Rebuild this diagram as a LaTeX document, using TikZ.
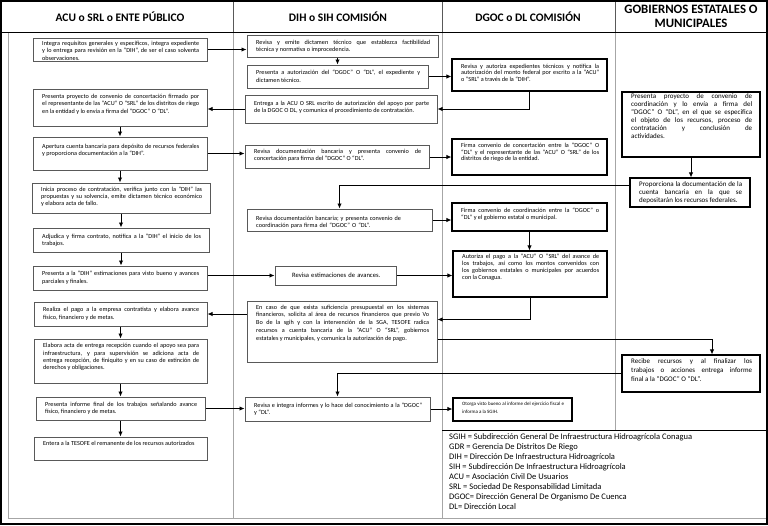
\documentclass[tikz,border=0pt]{standalone}
\usepackage{fontspec}
\setmainfont{Carlito}
\usetikzlibrary{arrows.meta}
\definecolor{boxgray}{HTML}{595959}
\definecolor{gridgray}{HTML}{A6A6A6}
\newcommand\bx[8][]{%
  \pgfmathsetmacro\bxw{#5-#3}%
  \pgfmathsetmacro\bxh{#6-#4}%
  \pgfmathsetmacro\bxt{#5-#3-17}%
  \node[curbox, minimum width=\bxw pt, minimum height=\bxh pt] (#2) at ({(#3+#5)/2},{(#4+#6)/2}) {};%
  \node[txt, text width=\bxt pt, anchor=north west, #1] (#2t) at ({#3+9},{#4+#7}) {\rule{0pt}{5pt}#8};%
}
\begin{document}
\begin{tikzpicture}[x=1pt,y=-1pt,
  box/.style={draw=boxgray, line width=1pt, fill=white, inner sep=0pt, rectangle},
  bbox/.style={draw=black, line width=1.1pt, fill=white, inner sep=0pt, rectangle},
  curbox/.style={box},
  txt/.style={inner sep=0pt, align=justify, font=\fontsize{6.2}{7.2}\selectfont,
    execute at begin node={\tolerance=10000\hbadness=10000\hyphenpenalty=10000}},
  arr/.style={draw=black, line width=0.9pt, -{Latex[length=5pt,width=4.5pt]}},
  hdr/.style={font=\fontsize{11.5}{14}\selectfont\bfseries, inner sep=0pt, align=center},
  leg/.style={font=\fontsize{8.5}{10.1}\selectfont, inner sep=0pt, align=left},
  gridln/.style={draw=gridgray, line width=0.9pt},
  hdrln/.style={draw=boxgray, line width=0.9pt}
]
\useasboundingbox (0,0) rectangle (768,525);
\fill[white] (0,0) rectangle (768,525);
% table grid
\draw[gridln] (8,32) -- (8,518) -- (767,518);
\draw[gridln] (233,32) -- (233,518);
\draw[gridln] (442,32) -- (442,518);
\draw[gridln] (615,32) -- (615,430);
\draw[hdrln] (233,1) -- (233,32);
\draw[hdrln] (442,1) -- (442,32);
\draw[hdrln] (615,1) -- (615,32);
\draw[black, line width=1pt] (1,32) -- (767,32);
\draw[black, line width=0.8pt] (442,430) -- (767,430);
\draw[black, line width=2pt] (1,1) rectangle (767,524);
% headers
\node[hdr] (h1) at (120,17) {ACU o SRL o ENTE PÚBLICO};
\node[hdr] (h2) at (338,17) {DIH o SIH COMISIÓN};
\node[hdr] (h3) at (528,17) {DGOC o DL COMISIÓN};
\node[hdr, font=\fontsize{12.8}{14}\selectfont\bfseries] (h4) at (691,16) {GOBIERNOS ESTATALES O\\MUNICIPALES};
% column 1
\bx{b1}{33}{38}{207}{61}{2.5}{Integra requisitos generales y específicos, integra expediente \linebreak y lo entrega para revisión en la “DIH”, de ser el caso solventa \linebreak observaciones.}
\bx{b2}{33}{89}{207}{126}{4.5}{Presenta proyecto de convenio de concertación firmado por \linebreak el representante de las “ACU” O “SRL” de los distritos de riego \linebreak en la entidad y lo envía a firma del “DGOC” O “DL”.}
\bx{b3}{33}{137}{207}{170}{6}{Apertura cuenta bancaria para depósito de recursos federales \linebreak y proporciona documentación a la “DIH”.}
\bx{b4}{32}{183}{210}{213}{3}{Inicia proceso de contratación, verifica junto con la “DIH” las \linebreak propuestas y su solvencia, emite dictamen técnico económico \linebreak y elabora acta de fallo.}
\bx{b5}{33}{228}{209}{252}{5}{Adjudica y firma contrato, notifica a la “DIH” el inicio de los \linebreak trabajos.}
\bx{b6}{33}{266}{207}{290}{4.6}{Presenta a la “DIH” estimaciones para visto bueno y avances \linebreak parciales y finales.}
\bx{b7}{34}{302}{207}{326}{4.6}{Realiza el pago a la empresa contratista y elabora avance \linebreak físico, financiero y de metas.}
\bx{b8}{34}{339}{207}{383}{3.7}{Elabora acta de entrega recepción cuando el apoyo sea para \linebreak infraestructura, y para supervisión se adiciona acta de \linebreak entrega recepción, de finiquito y en su caso de extinción de \linebreak derechos y obligaciones.}
\bx{b9}{36}{397}{205}{420}{4}{Presenta informe final de los trabajos señalando avance \linebreak físico, financiero y de metas.}
\bx{b10}{34}{437}{207}{460}{3}{Entera a la TESOFE el remanente de los recursos autorizados}
% column 2
\bx{c2a}{247}{35}{438}{57}{4.5}{Revisa y emite dictamen técnico que establezca factibilidad \linebreak técnica y normativa o improcedencia.}
\bx{c2b}{247}{65}{428}{88}{4.6}{Presenta a autorización del “DGOC” O “DL”, el expediente y \linebreak dictamen técnico.}
\bx{c2c}{245}{95}{437}{123}{4.9}{Entrega a la ACU O SRL escrito de autorización del apoyo por parte \linebreak de la DGOC O DL, y comunica el procedimiento de contratación.}
\bx{c2d}{245}{145}{429}{168}{3}{Revisa documentación bancaria y presenta convenio de \linebreak concertación para firma del “DGOC” O “DL”.}
\bx[align=left]{c2e}{247}{209}{432}{231}{5.9}{Revisa documentación bancaria; y presenta convenio de \linebreak coordinación para firma del “DGOC” O “DL”.}
\bx[align=center, font=\fontsize{6.6}{7.5}\selectfont]{c2f}{275}{266}{396}{285}{6}{Revisa estimaciones de avances.}
\bx[font=\fontsize{6.2}{7.75}\selectfont]{c2g}{247}{301}{437}{362}{3}{En caso de que exista suficiencia presupuestal en los sistemas \linebreak financieros, solicita al área de recursos financieros que previo Vo \linebreak Bo de la sgih y con la intervención de la SGA, TESOFE radica \linebreak recursos a cuenta bancaria de la “ACU” O “SRL”, gobiernos \linebreak estatales y municipales, y comunica la autorización de pago.}
\bx{c2h}{245}{397}{430}{421}{4.9}{Revisa e integra informes y lo hace del conocimiento a la “DGOC” \linebreak y “DL”.}
% column 3
\tikzset{curbox/.style={bbox}}
\bx[font=\fontsize{6.2}{6.5}\selectfont]{c3a}{452}{59}{607}{91}{4}{Revisa y autoriza expedientes técnicos y notifica la \linebreak autorización del monto federal por escrito a la “ACU” \linebreak o “SRL” a través de la “DIH”.}
\bx[font=\fontsize{6.2}{6.6}\selectfont]{c3b}{452}{139}{607}{175}{3.5}{Firma convenio de concertación entre la “DGOC” O \linebreak “DL” y el representante de las “ACU” O “SRL” de los \linebreak distritos de riego de la entidad.}
\bx[font=\fontsize{6.2}{7}\selectfont]{c3c}{452}{203}{607}{231}{4.3}{Firma convenio de coordinación entre la “DGOC” o \linebreak “DL” y el gobierno estatal o municipal.}
\bx[font=\fontsize{6.2}{7}\selectfont]{c3d}{453}{251}{607}{297}{2.5}{Autoriza el pago a la “ACU” O “SRL” del avance de \linebreak los trabajos, así como los montos convenidos con \linebreak los gobiernos estatales o municipales por acuerdos \linebreak con la Conagua.}
\bx[font=\fontsize{4.95}{7.8}\selectfont]{c3e}{453}{398}{572}{421}{2.3}{Otorga visto bueno al informe del ejercicio fiscal e \linebreak informa a la SGIH.}
% column 4
\bx[font=\fontsize{7}{8}\selectfont]{c4a}{622}{92}{760}{157}{1.7}{Presenta proyecto de convenio de \linebreak coordinación y lo envía a firma del \linebreak “DGOC” O “DL”, en el que se especifica \linebreak el objeto de los recursos, proceso de \linebreak contratación y conclusión de \linebreak actividades.}
\bx[font=\fontsize{7}{8}\selectfont]{c4b}{630}{178}{750}{207}{3.6}{Proporciona la documentación de la \linebreak cuenta bancaria en la que se \linebreak depositarán los recursos federales.}
\bx[font=\fontsize{7}{9}\selectfont]{c4c}{622}{355}{760}{392}{3.6}{Recibe recursos y al finalizar los \linebreak trabajos o acciones entrega informe \linebreak final a la “DGOC” O “DL”.}
% legend
\node[leg, anchor=north west] (leg) at (449,432.5) {\rule{0pt}{6.5pt}SGIH = Subdirección General De Infraestructura Hidroagrícola Conagua\\
GDR = Gerencia De Distritos De Riego\\
DIH = Dirección De Infraestructura Hidroagrícola\\
SIH = Subdirección De Infraestructura Hidroagrícola\\
ACU = Asociación Civil De Usuarios\\
SRL = Sociedad De Responsabilidad Limitada\\
DGOC= Dirección General De Organismo De Cuenca\\
DL= Dirección Local};
% connectors column 1 vertical
\draw[arr] (b2.south) -- (b2.south |- b3.north);
\draw[arr] (b3.south) -- (b3.south |- b4.north);
\draw[arr] (b4.south) -- (b4.south |- b5.north);
\draw[arr] (b5.south) -- (b5.south |- b6.north);
\draw[arr] (b7.south) -- (b7.south |- b8.north);
\draw[arr] (b8.south) -- (b8.south |- b9.north);
\draw[arr] (b9.south) -- (b9.south |- b10.north);
% horizontal and routed connectors
\draw[arr] (b1.east) -- (b1.east -| c2a.west);
\draw[arr] (c2b.north |- c2a.south) -- (c2b.north);
\draw[arr] (c2b.east) -- (c2b.east -| c3a.west);
\draw[arr] (c3a.south) |- (c2c.east);
\draw[arr] (c2c.west) -- (c2c.west -| b2.east);
\draw[arr] (b3.east) -- (b3.east -| c2d.west);
\draw[arr] (c2d.east |- c3b.west) -- (c3b.west);
\draw[arr] (c4a.south) -- (c4a.south |- c4b.north);
\draw[arr] ([yshift=7.5pt]c4b.west) -| (c2e.north);
\draw[arr] (c2e.east) -- (c2e.east -| c3c.west);
\draw[arr] (c3c.south) -- (c3c.south |- c3d.north);
\draw[arr] (b6.east |- c2f.west) -- (c2f.west);
\draw[arr] (c2f.east) -- (c2f.east -| c3d.west);
\draw[arr] (c3d.south) |- ([yshift=12pt]c2g.east);
\draw[arr] (c2g.west |- b7.east) -- (b7.east);
\draw[arr] ([yshift=-8pt]c2g.east) -| ([xshift=21pt]c4c.north);
\draw[arr] (c4c.west) -| (c2h.north);
\draw[arr] (b9.east) -- (b9.east -| c2h.west);
\draw[arr] (c2h.east) -- (c2h.east -| c3e.west);
\end{tikzpicture}
\end{document}
